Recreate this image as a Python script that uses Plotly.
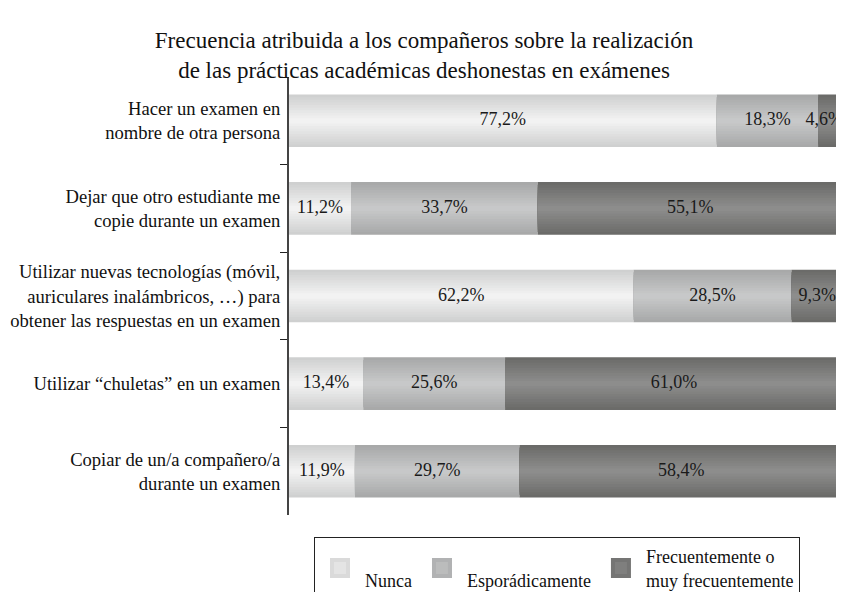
import plotly.graph_objects as go

# datos del gráfico
categorias = [
    "Hacer un examen en<br>nombre de otra persona",
    "Dejar que otro estudiante me<br>copie durante un examen",
    "Utilizar nuevas tecnologías (móvil,<br>auriculares inalámbricos, …) para<br>obtener las respuestas en un examen",
    "Utilizar “chuletas” en un examen",
    "Copiar de un/a compañero/a<br>durante un examen",
]
series = ["Nunca", "Esporádicamente", "Frecuentemente o<br>muy frecuentemente"]
nunca = [77.2, 11.2, 62.2, 13.4, 11.9]
esporadicamente = [18.3, 33.7, 28.5, 25.6, 29.7]
frecuentemente = [4.6, 55.1, 9.3, 61.0, 58.4]

# colores (borde, centro) para imitar el degradado de las barras
colores = [
    ((0xcf, 0xd0, 0xd0), (0xf2, 0xf2, 0xf2)),
    ((0xa8, 0xa9, 0xa9), (0xc7, 0xc8, 0xc9)),
    ((0x6b, 0x6b, 0x69), (0x8d, 0x8d, 0x8c)),
]
FONT = "Liberation Serif, Times New Roman, serif"
ANCHO_BARRA = 0.6
N_BANDAS = 10

# la página tiene 8px de margen en el body
W, H = 836, 584


def mezcla(c1, c2, t):
    r, g, b = (round(a + (b_ - a) * t) for a, b_ in zip(c1, c2))
    return f"rgb({r},{g},{b})"


fig = go.Figure()

valores = [nunca, esporadicamente, frecuentemente]
base = [0.0] * len(categorias)
for nombre, vals, (borde, centro) in zip(series, valores, colores):
    # bandas superpuestas, cada vez más estrechas y claras
    for k in range(N_BANDAS):
        t = k / (N_BANDAS - 1)
        fig.add_trace(go.Bar(
            y=categorias, x=vals, base=base,
            orientation="h",
            width=ANCHO_BARRA * (1 - k / N_BANDAS),
            marker=dict(color=mezcla(borde, centro, t), line=dict(width=0)),
            name=nombre,
            legendgroup=nombre,
            showlegend=False,
            hoverinfo="skip",
        ))
    # etiquetas de porcentaje centradas en cada segmento
    # (si el segmento final es muy corto, se alinea al borde derecho)
    xs, pos = [], []
    for b, v in zip(base, vals):
        if b + v >= 99.9 and v < 6:
            xs.append(min(b + v, 100))
            pos.append("middle left")
        else:
            xs.append(b + v / 2)
            pos.append("middle center")
    fig.add_trace(go.Scatter(
        y=categorias, x=xs,
        mode="text",
        text=[f"{v:.1f}%".replace(".", ",") for v in vals],
        textposition=pos,
        textfont=dict(family=FONT, size=18, color="#1a1a1a"),
        showlegend=False,
        hoverinfo="skip",
        cliponaxis=False,
    ))
    # entrada de leyenda con un cuadrado más grande
    # (los nombres de una línea van en la segunda línea)
    fig.add_trace(go.Scatter(
        x=[None], y=[None], mode="markers",
        marker=dict(symbol="square", size=16, color=mezcla(borde, centro, 0.6),
                    line=dict(width=4, color=mezcla(borde, centro, 0.3))),
        name=nombre if "<br>" in nombre else "<br>" + nombre,
        legendgroup=nombre,
        hoverinfo="skip",
    ))
    base = [b + v for b, v in zip(base, vals)]

fig.update_layout(
    width=W, height=H,
    barmode="overlay",
    plot_bgcolor="white", paper_bgcolor="white",
    margin=dict(l=281, r=1, t=69, b=77),
    font=dict(family=FONT, size=18, color="#111111"),
    title=dict(
        text="Frecuencia atribuida a los compañeros sobre la realización<br>"
             "de las prácticas académicas deshonestas en exámenes",
        x=(424 - 8) / W, xref="container", xanchor="center",
        y=1 - 40 / H, yref="container", yanchor="middle",
        font=dict(family=FONT, size=23, color="#111111"),
    ),
    xaxis=dict(range=[0, 100], visible=False, fixedrange=True),
    yaxis=dict(
        range=[4.5, -0.5],
        automargin=False,
        tickson="boundaries",
        ticks="outside", ticklen=7, tickwidth=1.2, tickcolor="#222222",
        showline=True, linecolor="#444444", linewidth=2,
        showgrid=False, zeroline=False,
        ticklabelstandoff=3,
        tickfont=dict(family=FONT, size=18.6, color="#111111"),
    ),
    legend=dict(
        orientation="h",
        x=(557 - 8) / W, xref="container", xanchor="center",
        y=1 - 529 / H, yref="container", yanchor="top",
        bordercolor="#222222", borderwidth=1,
        font=dict(family=FONT, size=18, color="#111111"),
        traceorder="normal",
        itemsizing="trace",
        itemwidth=40,
    ),
)

fig.write_html("out.html")
